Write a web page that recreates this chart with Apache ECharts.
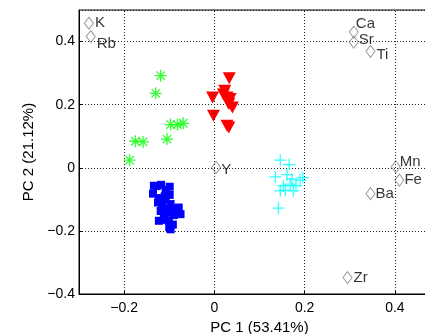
<!DOCTYPE html>
<html><head><meta charset="utf-8">
<script src="https://cdn.jsdelivr.net/npm/echarts@6/dist/echarts.min.js"></script>
<style>html,body{margin:0;padding:0;background:#fff}#c{width:425px;height:334px}</style>
</head><body><div id="c"></div>
<script>
// ---- data ----
const xTicks = [-0.2, 0, 0.2, 0.4];
const yTicks = [-0.4, -0.2, 0, 0.2, 0.4];

const greenX = [-0.119, -0.130, -0.097, -0.082, -0.069, -0.105, -0.175, -0.158, -0.188];
const greenY = [0.292, 0.236, 0.137, 0.137, 0.141, 0.091, 0.084, 0.082, 0.024];

const redX = [0.033, -0.004, 0.023, 0.028, 0.035, 0.040, 0.032, -0.002, 0.032, 0.028, 0.020, 0.030];
const redY = [0.284, 0.223, 0.244, 0.223, 0.218, 0.191, 0.202, 0.165, 0.128, 0.133, 0.232, 0.210];

const blueX = [-0.134, -0.118, -0.099, -0.136, -0.123, -0.099, -0.116, -0.097, -0.119, -0.101, -0.079, -0.097, -0.101, -0.123,
               -0.075, -0.108, -0.128, -0.108, -0.110, -0.125, -0.105, -0.090, -0.112, -0.090, -0.110, -0.092, -0.100, -0.085];
const blueY = [-0.057, -0.054, -0.060, -0.082, -0.096, -0.086, -0.115, -0.115, -0.137, -0.142, -0.126, -0.195, -0.168, -0.168,
               -0.147, -0.100, -0.058, -0.070, -0.090, -0.110, -0.128, -0.130, -0.152, -0.150, -0.165, -0.180, -0.188, -0.140];

const cyanX = [0.146, 0.166, 0.135, 0.161, 0.172, 0.190, 0.196, 0.153, 0.168, 0.181, 0.146, 0.175, 0.157, 0.142];
const cyanY = [0.024, 0.010, -0.029, -0.022, -0.036, -0.039, -0.031, -0.057, -0.052, -0.057, -0.073, -0.073, -0.071, -0.128];

const loadNames = ['K', 'Rb', 'Ca', 'Sr', 'Ti', 'Y', 'Mn', 'Fe', 'Ba', 'Zr'];
const loadX = [-0.278, -0.274, 0.309, 0.309, 0.346, 0.004, 0.402, 0.410, 0.346, 0.295];
const loadY = [0.458, 0.416, 0.430, 0.398, 0.369, 0.001, 0.003, -0.039, -0.082, -0.348];

// ---- styles ----
const labelOffsets = {K:[6,0], Rb:[6,7], Ca:[2,-8], Sr:[5,-2], Ti:[6,4], Y:[5,2], Mn:[4,-5], Fe:[5,0], Ba:[5,0], Zr:[6,0]};
const FONT = 'Liberation Sans, Arial, Helvetica, sans-serif';
function fmt(v) {
  if (Math.abs(v) < 1e-9) return '0';
  return (v < 0 ? '\u2212' : '') + Math.abs(v).toFixed(1);
}
function pairs(xs, ys) { return xs.map((x, i) => [x, ys[i]]); }
const dotted = {color: '#222', width: 1, type: [1, 2]};
const asterisk = 'path://M0,-10L0,10M-10,0L10,0M-7,-7L7,7M-7,7L7,-7';
const plus = 'path://M0,-10L0,10M-10,0L10,0';

const chart = echarts.init(document.getElementById('c'), null, {renderer: 'canvas'});
chart.setOption({
  animation: false,
  backgroundColor: '#fff',
  grid: {left: 79, top: 10, width: 361, height: 284, outerBoundsMode: 'none', containLabel: false,
    show: true, borderColor: '#000', borderWidth: 1, backgroundColor: 'transparent'},
  xAxis: {
    type: 'value', min: -0.3, max: 0.5, interval: 0.1,
    name: 'PC 1 (53.41%)', nameLocation: 'middle', nameGap: 23,
    nameTextStyle: {fontFamily: FONT, fontSize: 15, color: '#000'},
    axisLine: {show: true, onZero: false, lineStyle: {color: '#000', width: 1}},
    axisTick: {show: true, inside: true, length: 4, customValues: xTicks, lineStyle: {color: '#000'}},
    axisLabel: {fontFamily: FONT, fontSize: 14, color: '#000', margin: 7, customValues: xTicks,
      formatter: v => xTicks.some(t => Math.abs(t - v) < 1e-9) ? fmt(v) : ''},
    splitLine: {show: false}
  },
  yAxis: {
    type: 'value', min: -0.4, max: 0.5, interval: 0.2,
    name: 'PC 2 (21.12%)', nameLocation: 'middle', nameGap: 35,
    nameTextStyle: {fontFamily: FONT, fontSize: 15, color: '#000'},
    axisLine: {show: true, onZero: false, lineStyle: {color: '#000', width: 1}},
    axisTick: {show: true, inside: true, length: 4, lineStyle: {color: '#000'}},
    axisLabel: {fontFamily: FONT, fontSize: 14, color: '#000', margin: 4, showMaxLabel: false,
      formatter: v => yTicks.some(t => Math.abs(t - v) < 1e-9) ? fmt(v) : ''},
    splitLine: {show: true, lineStyle: dotted}
  },
  series: [
    {type: 'scatter', data: [], z: 1, silent: true,
      markLine: {silent: true, symbol: 'none', label: {show: false}, lineStyle: dotted,
        data: xTicks.map(v => ({xAxis: v}))}},
    {type: 'scatter', data: pairs(greenX, greenY), symbol: asterisk, symbolSize: 12, z: 3,
      itemStyle: {color: 'rgba(0,0,0,0)', borderColor: '#00ff00', borderWidth: 1.3}},
    {type: 'scatter', data: pairs(redX, redY), symbol: 'triangle', symbolRotate: 180, symbolSize: [13, 12], z: 3,
      itemStyle: {color: '#ff0000', opacity: 1}},
    {type: 'scatter', data: pairs(blueX, blueY), symbol: 'rect', symbolSize: 8, z: 3,
      itemStyle: {color: '#0000ff', opacity: 1}},
    {type: 'scatter', data: pairs(cyanX, cyanY), symbol: plus, symbolSize: 12, z: 3,
      itemStyle: {color: 'rgba(0,0,0,0)', borderColor: '#00ffff', borderWidth: 1.3}},
    {type: 'scatter', z: 4, symbol: 'diamond', symbolSize: [9, 12],
      itemStyle: {color: 'rgba(0,0,0,0)', borderColor: '#808080', borderWidth: 1},
      data: loadNames.map((n, i) => ({
        value: [loadX[i], loadY[i]], name: n,
        label: {show: true, formatter: n, position: 'inside', align: 'left', verticalAlign: 'middle',
          offset: labelOffsets[n], fontFamily: FONT, fontSize: 15, color: '#000'}
      }))}
  ]
});
</script></body></html>
